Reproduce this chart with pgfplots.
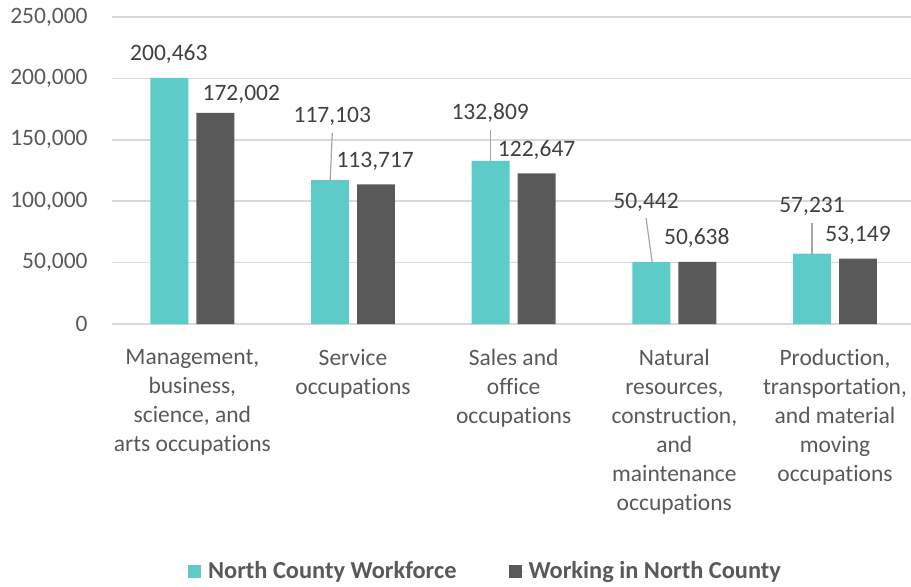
\documentclass[border=0pt]{standalone}
\usepackage{pgfplots}
\pgfplotsset{compat=1.18}
\usepackage{fontspec}
\setmainfont{Carlito}[RawFeature={-liga;-clig;-calt;-dlig}]
\newcommand{\ti}{t\kern0pt i}
\definecolor{teal1}{HTML}{5DCBC8}
\definecolor{dgray}{HTML}{595959}
\definecolor{gridc}{HTML}{D9D9D9}
\definecolor{txt}{HTML}{595959}
\definecolor{lbl}{HTML}{404040}
\definecolor{lead}{HTML}{A6A6A6}
\newcommand{\cf}{\fontsize{11.75}{14.5}\selectfont}
\pgfplotsset{
  sqleg/.style={legend image code/.code={\fill[##1] (0pt,-3.25pt) rectangle (6.5pt,3.25pt); \path (6.5pt,0pt) -- (8pt,0pt);}},
}
\tikzset{lab/.style={font=\cf, text=lbl, anchor=base, yshift=-3.7pt, inner sep=0pt}}
\begin{document}
\begin{tikzpicture}
\begin{axis}[
  scale only axis, width=399.5pt, height=153.5pt,
  xmin=-0.5, xmax=4.473, ymin=0, ymax=250000,
  ytick={0,50000,100000,150000,200000,250000},
  xtick={0,1,2,3,4},
  xticklabels={{Management,\\business,\\science, and\\arts occupa\ti ons},
               {Service\\occupa\ti ons},
               {Sales and\\office\\occupa\ti ons},
               {Natural\\resources,\\construc\ti on,\\and\\maintenance\\occupa\ti ons},
               {Produc\ti on,\\transporta\ti on,\\and material\\moving\\occupa\ti ons}},
  axis line style={draw=none},
  major tick length=0pt,
  ymajorgrids, grid style={gridc, line width=0.75pt},
  scaled y ticks=false,
  /pgf/number format/fixed,
  /pgf/number format/1000 sep={,},
  /pgf/number format/assume math mode=true,
  y tick label style={anchor=east, inner sep=0pt, xshift=-12pt, font=\cf, text=txt},
  x tick label style={anchor=north, inner sep=0pt, yshift=-12.5pt, align=center, font=\cf, text=txt},
  legend style={at={(0.4687,-0.8046)}, anchor=center, draw=none, legend columns=2,
    font=\fontsize{12.2}{14.5}\selectfont\bfseries, text=txt,
    /tikz/every even column/.append style={column sep=24pt}},
  clip=false,
]
\addplot[ybar, bar width=0.236, bar shift=-0.143, fill=teal1, draw=none, sqleg]
  coordinates {(0,200463) (1,117103) (2,132809) (3,50442) (4,57231)};
\addlegendentry{North County Workforce}
\addplot[ybar, bar width=0.236, bar shift=0.143, fill=dgray, draw=none, sqleg]
  coordinates {(0,172002) (1,113717) (2,122647) (3,50638) (4,53149)};
\addlegendentry{Working in North County}

\draw[lead, line width=0.6pt] (axis cs:0.871,155500) -- (axis cs:0.858,117103);
\draw[lead, line width=0.6pt] (axis cs:1.854,158000) -- (axis cs:1.854,132809);
\draw[lead, line width=0.6pt] (axis cs:2.824,86300) -- (axis cs:2.862,50442);
\draw[lead, line width=0.6pt] (axis cs:3.857,82250) -- (axis cs:3.857,57231);

\node[lab] at (axis cs:-0.146,220700) {200,463};
\node[lab] at (axis cs:0.305,188100) {172,002};
\node[lab] at (axis cs:0.871,170200) {117,103};
\node[lab] at (axis cs:1.138,133550) {113,717};
\node[lab] at (axis cs:1.854,172600) {132,809};
\node[lab] at (axis cs:2.143,142500) {122,647};
\node[lab] at (axis cs:2.824,100160) {50,442};
\node[lab] at (axis cs:3.14,70850) {50,638};
\node[lab] at (axis cs:3.857,96900) {57,231};
\node[lab] at (axis cs:4.143,73300) {53,149};
\end{axis}
\pgfresetboundingbox
\path (current axis.south west) ++(-56pt,-131pt) rectangle ++(455.5pt,293pt);
\end{tikzpicture}
\end{document}
